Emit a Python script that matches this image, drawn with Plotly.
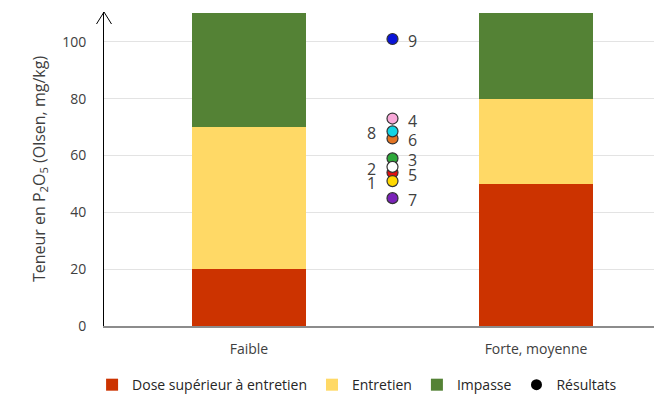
import plotly.graph_objects as go

# Classes de teneur du sol et bornes des zones (mg/kg P2O5 Olsen)
categories = ["Faible", "Forte, moyenne"]
dose_sup = [20, 50]
entretien = [50, 30]
impasse = [40, 30]

# Résultats des parcelles : numéro, teneur mesurée, couleur du point
result_ids = [1, 2, 3, 4, 5, 6, 7, 8, 9]
result_values = [51, 56, 59, 73, 54, 66, 45, 68.5, 101]
result_colors = ["#FFD800", "#FFFFFF", "#2EA83A", "#F7A8D8", "#E01010",
                 "#E27423", "#7A22B8", "#12D4E4", "#0A14D8"]
# côté de l'étiquette du numéro
label_side = ["left", "left", "right", "right", "right", "right", "right", "left", "right"]
# ordre de superposition des points
draw_order = [6, 8, 3, 5, 2, 1, 7, 4, 9]

C_RED = "#CC3300"
C_YEL = "#FFD966"
C_GRN = "#548235"
FONT = "Open Sans"
TXT = "#404040"

fig = go.Figure()
xpos = list(range(len(categories)))
fig.add_bar(x=xpos, y=dose_sup, name="Dose supérieur à entretien",
            marker=dict(color=C_RED, line=dict(width=0)), width=0.4)
fig.add_bar(x=xpos, y=entretien, name="Entretien",
            marker=dict(color=C_YEL, line=dict(width=0)), width=0.4)
fig.add_bar(x=xpos, y=impasse, name="Impasse",
            marker=dict(color=C_GRN, line=dict(width=0)), width=0.4)

x_mid = 0.5
idx = [result_ids.index(i) for i in draw_order]
fig.add_scatter(
    x=[x_mid] * len(idx), y=[result_values[k] for k in idx], mode="markers",
    marker=dict(size=11, color=[result_colors[k] for k in idx],
                line=dict(color="#333333", width=1.2)),
    showlegend=False, hoverinfo="y",
)
# entrée de légende « Résultats »
fig.add_scatter(x=[None], y=[None], mode="markers", name="Résultats",
                marker=dict(size=11, color="black"))

for i, v, side in zip(result_ids, result_values, label_side):
    fig.add_annotation(
        x=x_mid, y=v, text=str(i), showarrow=False,
        xanchor="left" if side == "right" else "right",
        xshift=14 if side == "right" else -14, yshift=-2,
        font=dict(family=FONT, size=16, color=TXT),
    )

fig.update_layout(
    barmode="stack",
    width=654, height=397,
    margin=dict(l=104, r=0, t=12, b=71),
    paper_bgcolor="white", plot_bgcolor="white",
    font=dict(family=FONT, size=14, color=TXT),
    bargap=0,
    legend=dict(orientation="h", x=0.546, xanchor="center", xref="container",
                y=0.03, yanchor="middle", yref="container",
                traceorder="normal",
                font=dict(family=FONT, size=14, color="#262626"),
                itemclick=False),
    xaxis=dict(range=[-0.505, 1.411], tickmode="array", tickvals=xpos,
               ticktext=categories, showgrid=False, zeroline=False,
               showline=True, linecolor="#8C8C8C", linewidth=1.5,
               ticks="outside", ticklen=9, tickcolor="rgba(0,0,0,0)",
               tickfont=dict(family=FONT, size=14, color=TXT)),
    yaxis=dict(range=[0, 110.5], tickvals=[0, 20, 40, 60, 80, 100],
               showgrid=True, gridcolor="#E3E3E3", gridwidth=1,
               zeroline=False, showline=True, linecolor="black", linewidth=1,
               ticks="outside", ticklen=14, tickcolor="rgba(0,0,0,0)",
               tickfont=dict(family=FONT, size=14, color=TXT),
               title=dict(text="Teneur en P<sub>2</sub>O<sub>5</sub> (Olsen, mg/kg)",
                          font=dict(family=FONT, size=16, color=TXT),
                          standoff=12)),
)

# pointe de flèche en haut de l'axe des ordonnées
fig.add_shape(type="path", xref="paper", yref="paper",
              xsizemode="pixel", ysizemode="pixel", xanchor=0, yanchor=1,
              path="M -7.5 -12 L 0 0 L 7.5 -12",
              line=dict(color="black", width=1))

fig.write_html("out.html")
